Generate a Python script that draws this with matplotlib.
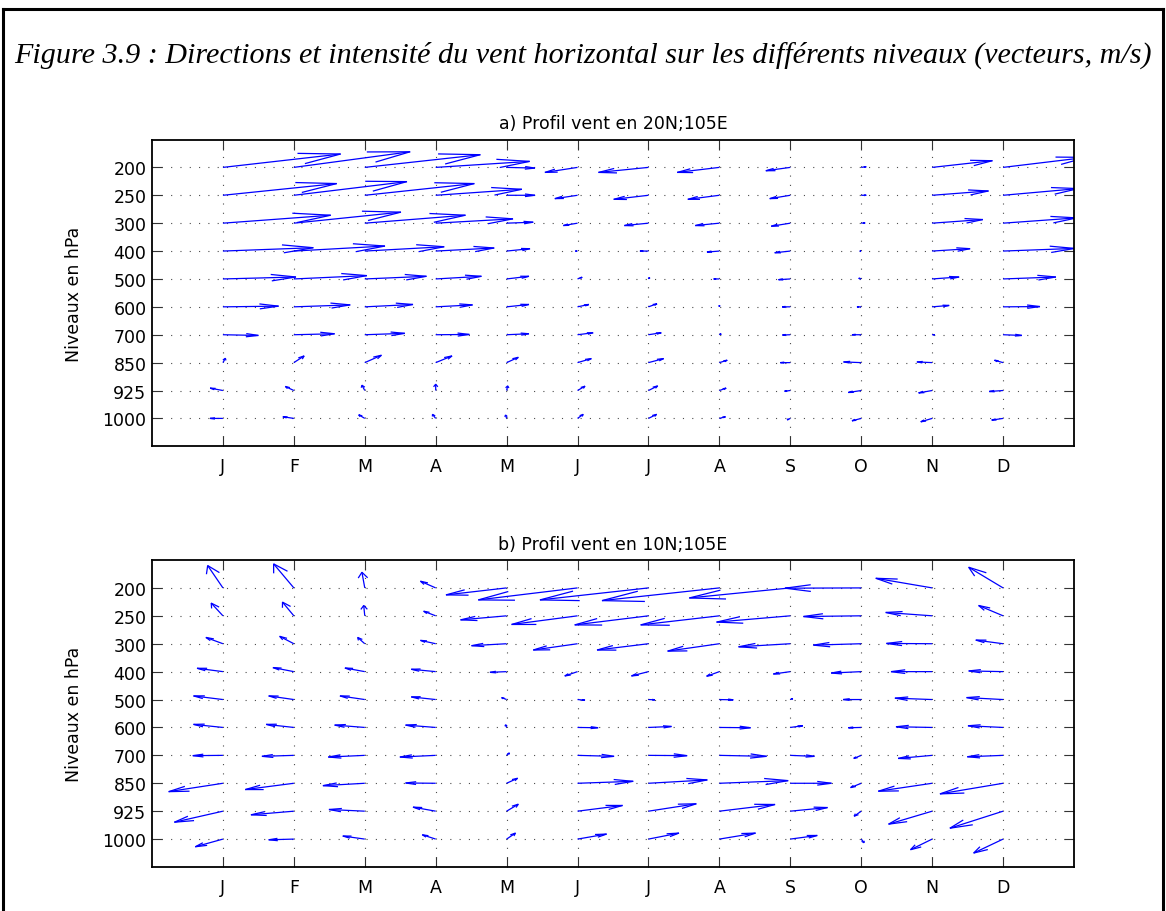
import numpy as np
import matplotlib
matplotlib.use('Agg')
import matplotlib.pyplot as plt
from matplotlib.lines import Line2D

# ---------------- data ----------------
months = ['J', 'F', 'M', 'A', 'M', 'J', 'J', 'A', 'S', 'O', 'N', 'D']
levels = [200, 250, 300, 400, 500, 600, 700, 850, 925, 1000]

caption = ("Figure 3.9 : Directions et intensité du vent horizontal sur les "
           "différents niveaux (vecteurs, m/s)")
title_a = "a) Profil vent en 20N;105E"
title_b = "b) Profil vent en 10N;105E"
ylabel = "Niveaux en hPa"

# zonal (u) and meridional (v) wind, m/s ; rows = levels, cols = months
u_a = [
    [33.2, 32.8, 32.6, 26.5, 8.0, -9.2, -14.1, -11.9, -6.9, 1.4, 17.0, 23.5],
    [32.1, 31.9, 30.9, 24.3, 8.0, -6.4, -9.8, -8.9, -5.8, 1.4, 15.9, 21.2],
    [30.4, 30.2, 28.4, 21.8, 7.5, -4.0, -6.8, -6.8, -5.4, 1.1, 14.3, 20.8],
    [25.5, 25.7, 22.4, 16.5, 6.6, -0.6, -2.4, -3.5, -4.4, -0.4, 10.7, 20.2],
    [20.6, 20.6, 17.4, 12.9, 6.3, 1.3, 0.3, -1.6, -3.3, -0.7, 7.6, 14.9],
    [15.7, 15.9, 13.6, 10.4, 6.3, 3.2, 2.4, 0.0, -2.3, -1.2, 4.8, 10.4],
    [10.0, 11.5, 11.3, 9.5, 6.3, 4.4, 3.6, 0.5, -2.2, -2.6, 0.7, 5.3],
    [0.7, 2.9, 4.7, 4.6, 3.3, 3.9, 4.3, 2.2, -2.8, -5.0, -4.3, -2.4],
    [-3.6, -2.4, -0.8, 0.0, 0.3, 2.1, 2.6, 1.9, -1.6, -3.6, -3.8, -3.9],
    [-3.6, -3.1, -1.7, -0.9, -0.3, 1.6, 2.3, 1.7, -0.9, -2.6, -3.2, -3.2],
]
v_a = [
    [9.6, 11.2, 9.1, 4.3, -0.5, -3.6, -3.6, -3.6, -2.4, 0.5, 4.8, 7.2],
    [8.4, 9.8, 8.4, 4.3, 0.0, -2.4, -2.9, -2.9, -2.4, 0.0, 3.1, 4.8],
    [5.7, 7.9, 5.7, 3.1, 0.7, -1.7, -1.7, -1.7, -2.2, 0.2, 2.6, 3.8],
    [2.4, 3.6, 3.1, 2.2, 1.7, 0.0, 0.0, -0.7, -1.2, 0.0, 1.7, 1.9],
    [1.4, 2.4, 1.9, 1.9, 1.9, 1.2, 1.0, 0.0, -0.5, 0.5, 1.4, 1.4],
    [0.5, 1.4, 1.7, 1.4, 1.7, 1.7, 2.2, 1.0, 0.0, 0.0, 1.0, 0.2],
    [-0.5, 0.7, 1.0, 0.2, 0.7, 1.4, 1.4, 0.7, -0.2, 0.0, 0.0, -0.5],
    [3.1, 4.8, 5.3, 4.8, 3.8, 2.9, 2.9, 1.7, 0.0, 0.5, 0.5, 1.7],
    [1.7, 2.9, 3.8, 4.5, 3.3, 3.1, 3.3, 1.7, -0.5, -1.4, -1.7, -0.7],
    [0.0, 1.2, 2.6, 2.9, 2.4, 2.9, 2.9, 1.2, -1.0, -1.7, -2.4, -1.2],
]
u_b = [
    [-4.3, -5.7, -0.8, -4.3, -17.1, -28.0, -30.6, -33.1, -28.5, -21.5, -15.9, -9.7],
    [-3.3, -3.2, -0.3, -3.4, -13.0, -18.6, -20.8, -22.2, -20.8, -16.3, -13.1, -6.9],
    [-4.8, -4.0, -2.0, -4.3, -9.9, -12.5, -14.5, -14.6, -14.6, -13.5, -12.9, -7.7],
    [-7.3, -5.9, -5.6, -6.9, -4.7, -3.6, -4.8, -3.6, -4.8, -8.5, -11.6, -9.7],
    [-8.3, -7.1, -7.0, -6.9, -1.4, 2.1, 1.8, 3.9, 0.7, -5.1, -10.5, -10.3],
    [-8.3, -7.8, -8.5, -8.5, -0.3, 5.8, 6.5, 8.8, 3.5, -3.6, -10.2, -9.9],
    [-8.5, -9.0, -10.3, -10.1, 0.8, 10.3, 10.9, 13.3, 6.8, -2.1, -9.6, -10.1],
    [-15.3, -13.7, -11.8, -8.5, 3.1, 15.7, 16.6, 19.4, 11.6, -3.0, -15.2, -17.8],
    [-13.7, -12.1, -10.1, -6.4, 3.3, 12.7, 13.5, 15.7, 10.5, -2.0, -12.3, -15.0],
    [-7.8, -7.1, -6.2, -3.8, 2.5, 8.2, 8.6, 10.2, 7.6, 0.8, -6.1, -8.3],
]
v_b = [
    [16.0, 17.2, 11.2, 4.8, -5.0, -8.6, -8.6, -9.1, -7.2, -0.2, 6.9, 14.8],
    [9.1, 9.8, 7.4, 3.3, -2.9, -6.2, -6.5, -6.5, -4.5, -0.5, 2.4, 7.4],
    [4.5, 5.3, 4.5, 2.4, -1.4, -4.5, -4.5, -5.3, -2.2, -1.0, 0.2, 2.6],
    [2.4, 2.9, 2.6, 1.7, -0.5, -3.1, -3.1, -3.3, -1.7, -1.0, 0.0, 0.5],
    [2.6, 2.6, 2.6, 1.9, 1.4, -0.5, -0.2, -0.2, 0.7, 0.0, 1.0, 1.4],
    [2.2, 2.2, 1.7, 1.7, 1.9, -0.2, 0.7, -0.2, 1.2, -0.2, 0.5, 1.2],
    [-0.2, -0.7, -1.2, -1.2, 1.7, -0.7, -0.2, -0.7, -0.7, -2.2, -2.2, -1.0],
    [-6.0, -4.5, -1.7, 0.2, 3.6, 1.4, 2.4, 1.9, 0.0, -3.1, -5.7, -7.6],
    [-7.9, -2.6, 1.2, 2.9, 5.0, 4.1, 5.3, 4.8, 2.6, -3.6, -9.3, -12.2],
    [-5.5, -0.5, 2.2, 3.1, 4.3, 3.6, 4.3, 4.3, 2.6, -2.6, -7.6, -10.0],
]

VEC_SCALE = 0.05  # data units per m/s (MATLAB-style quiver scaling)

# ---------------- style ----------------
plt.rcParams['font.family'] = ['DejaVu Sans']
plt.rcParams['lines.scale_dashes'] = False
FS = 12.5

W, H = 1166, 912
fig = plt.figure(figsize=(W / 100, H / 100), dpi=100)
fig.patch.set_facecolor('white')

# page frame
def fx(p):
    return p / W

def fy(p):
    return 1 - p / H

frame_kw = dict(transform=fig.transFigure, color='black', lw=2.2, solid_capstyle='projecting')
fig.add_artist(Line2D([fx(3), fx(3)], [fy(10), -0.05], **frame_kw))
fig.add_artist(Line2D([fx(1163), fx(1163)], [fy(10), -0.05], **frame_kw))
fig.add_artist(Line2D([fx(3), fx(1163)], [fy(10), fy(10)], **frame_kw))

cap = fig.text(fx(14), fy(55), caption, family='Liberation Serif', style='italic',
               fontsize=20, ha='left', va='center')
fig.canvas.draw()
bb = cap.get_window_extent()
cap.set_fontsize(20 * (1136 / bb.width))

xpos = np.arange(1, 13)
ypos = np.arange(len(levels), 0, -1)  # 200 hPa on top


def draw_quiver(ax, u, v, scale):
    X, Y = np.meshgrid(xpos, ypos)
    U = np.asarray(u, float) * scale
    V = np.asarray(v, float) * scale
    a, b = 0.33, 0.33
    tx, ty = X + U, Y + V
    nan = np.full(X.shape, np.nan)
    sx = np.stack([X, tx, nan], axis=-1).ravel()
    sy = np.stack([Y, ty, nan], axis=-1).ravel()
    hx = np.stack([tx - a * (U + b * V), tx, tx - a * (U - b * V), nan], axis=-1).ravel()
    hy = np.stack([ty - a * (V - b * U), ty, ty - a * (V + b * U), nan], axis=-1).ravel()
    ax.plot(sx, sy, color='#0000ff', lw=0.9, solid_capstyle='butt')
    ax.plot(hx, hy, color='#0000ff', lw=0.9, solid_joinstyle='miter')


def style_axes(ax, title):
    ax.set_xlim(0, 13)
    ax.set_ylim(0, len(levels) + 1)
    ax.set_xticks(xpos)
    ax.set_xticklabels(months)
    ax.set_yticks(ypos)
    ax.set_yticklabels([str(l) for l in levels])
    ax.grid(True, color='0.3', lw=0.8, linestyle=(0, (0.8, 5.9)))
    ax.set_axisbelow(True)
    ax.tick_params(axis='both', direction='in', length=7, width=0.8,
                   top=True, right=True, labelsize=FS, color='0.2')
    ax.tick_params(axis='x', pad=8)
    ax.tick_params(axis='y', pad=4)
    for s in ax.spines.values():
        s.set_linewidth(1.3)
    ax.set_title(title, fontsize=FS, pad=8)
    ax.set_ylabel(ylabel, fontsize=FS)
    ax.yaxis.set_label_coords(-0.075, 0.5)


left = 152 / W
width = (1074 - 152) / W
ax1 = fig.add_axes([left, 1 - 447.3 / H, width, 306.8 / H])
ax2 = fig.add_axes([left, 1 - 868 / H, width, 307 / H])

draw_quiver(ax1, u_a, v_a, VEC_SCALE)
style_axes(ax1, title_a)
draw_quiver(ax2, u_b, v_b, VEC_SCALE)
style_axes(ax2, title_b)

fig.savefig('out.png', dpi=100, facecolor='white')
